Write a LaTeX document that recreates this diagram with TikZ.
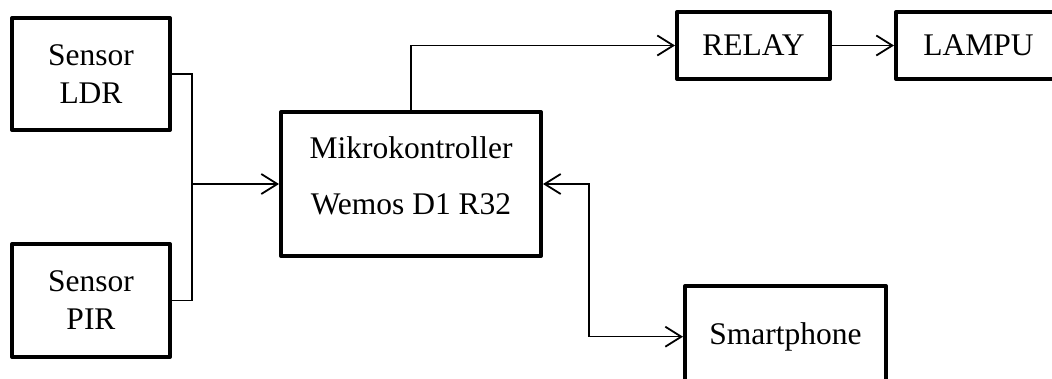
\documentclass[tikz,border=0pt]{standalone}
\usepackage{fontspec}
\setmainfont{Liberation Serif}
\usetikzlibrary{arrows.meta}
\begin{document}
\begin{tikzpicture}[x=1pt,y=-1pt,
  blk/.style={draw, line width=4pt, line join=round, inner sep=0pt, align=center,
    font={\fontsize{31.5}{38}\selectfont}},
  lbl/.style={inner sep=0pt, align=center, font={\fontsize{31.5}{56}\selectfont}},
  conn/.style={line width=1.5pt},
  barb/.tip={Straight Barb[length=16pt,width=20pt,line width=1.8pt]},
  tip/.style={-barb},
  bitip/.style={barb-barb}]
\useasboundingbox (0,0) rectangle (1052,378);
\clip (0,0) rectangle (1052,378);
\node[blk, minimum width=158pt, minimum height=112pt] (ldr) at (91,74) {Sensor\\LDR};
\node[blk, minimum width=158pt, minimum height=113pt] (pir) at (91,300.5) {Sensor\\PIR};
\node[blk, minimum width=260pt, minimum height=144pt] (mk) at (411,184) {};
\node[lbl] (mktext) at (411,176) {Mikrokontroller\\Wemos D1 R32};
\node[blk, minimum width=153pt, minimum height=67pt] (relay) at (753.5,45.5) {RELAY};
\node[blk, minimum width=165pt, minimum height=67pt] (lampu) at (978.5,45.5) {LAMPU};
\node[blk, minimum width=201pt, minimum height=101pt] (smart) at (785.5,336.7) {Smartphone};
\coordinate (j) at (192,184);
\draw[line width=1.2pt] (ldr.east) -| (j) |- (pir.east);
\draw[conn, tip] (j) -- (mk.west);
\draw[conn, tip] (mk.north) |- (relay.west);
\draw[conn, tip] (relay.east) -- (lampu.west);
\draw[conn, bitip] (mk.east) -- ++(46,0) |- (smart.west);
\end{tikzpicture}
\end{document}
